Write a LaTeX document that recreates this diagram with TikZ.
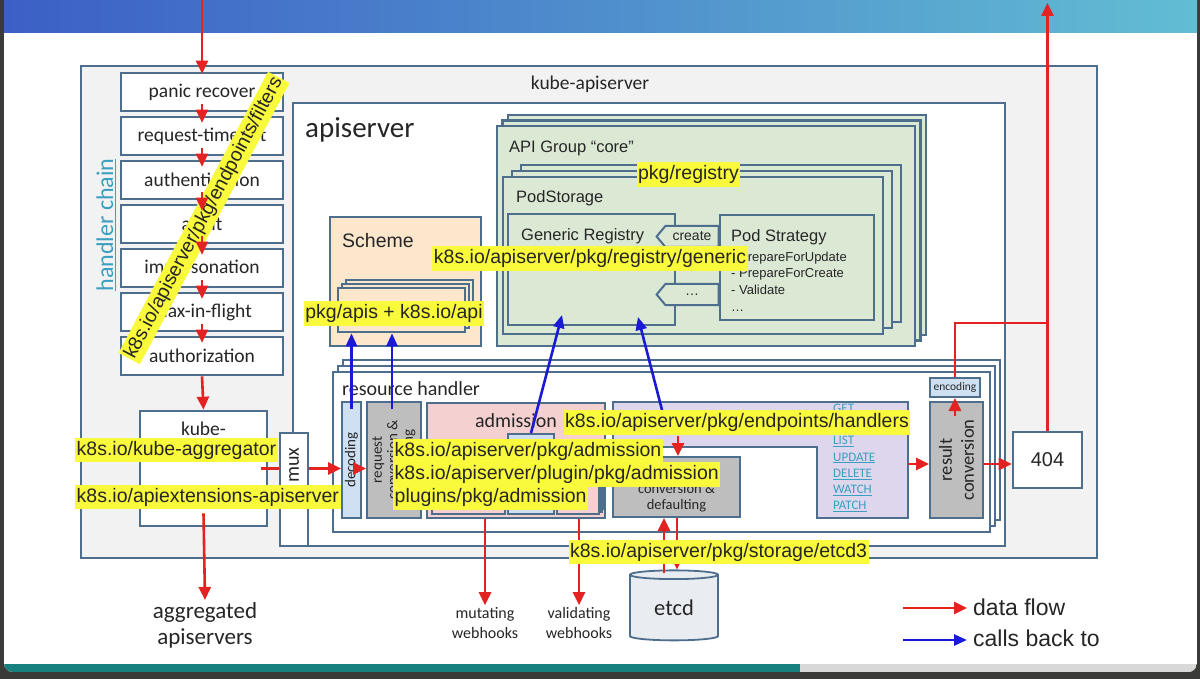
\documentclass[tikz,border=0pt]{standalone}
\usepackage{fontspec}
\setmainfont{Carlito}
\newfontfamily\arialfont{Liberation Sans}
\usetikzlibrary{arrows.meta, positioning, calc, shapes.geometric, shapes.symbols, shadows}

\definecolor{frame}{HTML}{3A3A38}
\definecolor{bannerleft}{HTML}{3C5FC6}
\definecolor{bannerright}{HTML}{62BDD3}
\definecolor{barteal}{HTML}{16817F}
\definecolor{bargray}{HTML}{D8D8D8}
\definecolor{edge}{HTML}{4E6E8E}
\definecolor{outerfill}{HTML}{F2F2F2}
\definecolor{groupgreen}{HTML}{DAE8D4}
\definecolor{schemefill}{HTML}{FCE6CC}
\definecolor{admitpink}{HTML}{F4D0D0}
\definecolor{handlerlilac}{HTML}{DDD6EC}
\definecolor{codecblue}{HTML}{CFE0F2}
\definecolor{convgray}{HTML}{BEBEBE}
\definecolor{etcdgray}{HTML}{E9EDF1}
\definecolor{hilite}{HTML}{FAFA3C}
\definecolor{flowred}{HTML}{E32222}
\definecolor{callblue}{HTML}{1A1AD6}
\definecolor{linkteal}{HTML}{3A9FC0}
\definecolor{ink}{HTML}{262626}

\tikzset{
  fs/.style 2 args={font=\fontsize{#1}{#2}\selectfont},
  afs/.style 2 args={font=\arialfont\fontsize{#1}{#2}\selectfont},
  box/.style={draw=edge, line width=2.6pt, fill=white},
  thinbox/.style={draw=edge, line width=2pt, fill=white},
  stack/.style n args={3}{
    general shadow={shadow xshift=2*#2, shadow yshift=2*#3, draw=edge, line width=2.2pt, fill=#1},
    general shadow={shadow xshift=#2, shadow yshift=#3, draw=edge, line width=2.2pt, fill=#1}},
  chainbox/.style={box, minimum width=162pt, minimum height=38pt, fs={19.5}{22}},
  chevron/.style={thinbox, fill=groupgreen, signal, signal to=west, signal pointer angle=100,
    minimum width=62pt, minimum height=21pt, afs={14}{16}},
  tag/.style={fill=hilite, inner xsep=1.5pt, inner ysep=3pt, afs={19.5}{21}},
  flow/.style={draw=flowred, line width=2.6pt, -{Triangle[length=13pt, width=12pt]}},
  flowline/.style={draw=flowred, line width=2.6pt},
  callback/.style={draw=callblue, line width=2.6pt, -{Triangle[length=13pt, width=11pt]}},
}

\begin{document}
\begin{tikzpicture}[x=1pt, y=-1pt, every node/.style={inner sep=0pt, text=ink}]
\useasboundingbox (0,0) rectangle (1200,679);

% slide background
\fill[frame] (0,0) rectangle (1200,679);
\begin{scope}
  \clip[rounded corners=9pt] (4,-20) rectangle (1197,672);
  \fill[white] (4,-20) rectangle (1197,672);
  \shade[left color=bannerleft, right color=bannerright] (4,-20) rectangle (1197,33);
  \fill[barteal] (4,664) rectangle (800,672);
  \fill[bargray] (800,664) rectangle (1197,672);
\end{scope}

% kube-apiserver
\node[box, fill=outerfill, line width=2.2pt, minimum width=1016pt, minimum height=492pt] (kube) at (589,312) {};
\node[fs={19.5}{22}] (kubetitle) at (590,84) {kube-apiserver};

% apiserver
\node[box, minimum width=712pt, minimum height=443pt] (apiserver) at (649,324.5) {};
\node[anchor=west, fs={29}{32}] (apititle) at (305,130) {apiserver};

% handler chain
\foreach \name/\txt [count=\i] in {panic/panic recover, timeout/request-timeout, authn/authentication, audit/audit, imperson/impersonation, inflight/max-in-flight, authz/authorization}
  \node[chainbox] (\name) at (202,{92+44*(\i-1)}) {\txt};
\node[rotate=90, text=linkteal, fs={24}{26}] (chaintitle) at (106,225) {\underline{handler chain}};

% aggregator and mux
\node[box, minimum width=127pt, minimum height=115pt] (aggr) at (203.5,468.5) {};
\node[align=center, fs={19.5}{22}] (aggrtext) at (203.5,441) {kube-\\aggregator};
\node[box, minimum width=28pt, minimum height=113pt] (mux) at (294,489.5) {};
\node[rotate=90, fs={20}{22}] (muxtext) at (294,465) {mux};

% scheme
\node[box, fill=schemefill, minimum width=151pt, minimum height=129pt] (scheme) at (405.5,281.5) {};
\node[anchor=west, afs={19.5}{22}] (schemetitle) at (342,241) {Scheme};
\node[box, fill=schemefill, stack={schemefill}{4pt}{4pt}, minimum width=127pt, minimum height=44pt] (apis) at (401.5,310) {};

% API group, storage, registry
\node[box, fill=groupgreen, stack={groupgreen}{5.5pt}{5.5pt}, minimum width=418pt, minimum height=220pt] (group) at (706,236) {};
\node[anchor=west, afs={16.5}{19}] (grouptitle) at (509,148) {API Group “core”};
\node[box, fill=groupgreen, stack={groupgreen}{9pt}{6pt}, minimum width=380pt, minimum height=157pt] (podstorage) at (693,255.5) {};
\node[anchor=west, afs={16.5}{19}] (podtitle) at (516,198) {PodStorage};
\node[box, fill=groupgreen, minimum width=167pt, minimum height=111pt] (generic) at (591.5,269.5) {};
\node[anchor=west, afs={16.5}{19}] (generictitle) at (521,236) {Generic Registry};
\foreach \name/\txt/\y in {create/create/236.5, update/update/259.5, more/{\ldots}/294.5}
  \node[chevron] (\name) at (692,\y) {\txt};
\node[box, fill=groupgreen, minimum width=154pt, minimum height=105pt] (strategy) at (797,267.5) {};
\node[anchor=west, afs={16.5}{19}] (strategytitle) at (731,237) {Pod Strategy};
\node[anchor=north west, align=left, afs={13}{16.7}] (strategylist) at (731,251.5) {- PrepareForUpdate\\- PrepareForCreate\\- Validate\\\ldots};

% resource handler
\node[box, stack={white}{5pt}{6pt}, minimum width=657pt, minimum height=160pt] (reshandler) at (661.5,452) {};
\node[anchor=west, fs={20}{22}] (restitle) at (342,389) {resource handler};
\node[thinbox, fill=codecblue, minimum width=19pt, minimum height=116pt] (decoding) at (351.5,460) {};
\node[rotate=90, fs={15}{17}] (decodingtext) at (decoding) {decoding};
\node[thinbox, fill=convgray, minimum width=54pt, minimum height=116pt] (request) at (394,460) {};
\node[rotate=90, align=center, fs={15}{15.5}] (requesttext) at (request) {request\\conversion \&\\defaulting};

% admission
\node[thinbox, fill=admitpink, minimum width=178pt, minimum height=115pt] (admission) at (516,460.5) {};
\node[fs={20}{22}] (admtitle) at (516,421) {admission};
\node[thinbox, fill=admitpink, minimum width=73pt, minimum height=71pt] (mutsub) at (468.5,478.5) {};
\node[thinbox, fill=codecblue, minimum width=46pt, minimum height=80pt] (validation) at (531,474) {};
\node[thinbox, fill=admitpink, stack={admitpink}{2.5pt}{2.5pt}, minimum width=42pt, minimum height=66pt] (valsub) at (578,481) {};

% endpoint handlers
\draw[thinbox, fill=handlerlilac] (613,402) -- (908,402) -- (908,518) -- (817,518) -- (817,447) -- (613,447) -- cycle;
\foreach \op [count=\i from 0] in {GET, POST, LIST, UPDATE, DELETE, WATCH, PATCH}
  \node[anchor=west, text=linkteal, fs={13}{15}] (op\i) at (833,{409+16.3*\i}) {\underline{\op}};
\node[thinbox, fill=convgray, minimum width=127pt, minimum height=60pt] (convdef) at (676.5,487) {};
\node[align=center, fs={14.5}{16.5}] (convtext) at (676.5,498) {conversion \&\\defaulting};

% result side
\node[thinbox, fill=convgray, minimum width=53pt, minimum height=116pt] (resconv) at (956.5,460) {};
\node[rotate=90, align=center, fs={18.5}{22}] (resconvtext) at (resconv) {result\\conversion};
\node[thinbox, fill=codecblue, minimum width=50pt, minimum height=19pt, fs={11.5}{13}] (encoding) at (955,387.5) {encoding};
\node[box, minimum width=69pt, minimum height=56pt, afs={20}{22}] (notfound) at (1047.5,460) {404};

% storage and webhooks
\node[cylinder, shape border rotate=90, aspect=0.22, draw=edge, line width=1.8pt, fill=etcdgray,
  minimum width=88pt, minimum height=70pt, fs={22.5}{24}] (etcd) at (674,608) {etcd};
\node[align=center, fs={16}{20}] (mutwh) at (485,623) {mutating\\webhooks};
\node[align=center, fs={16}{20}] (valwh) at (579,623) {validating\\webhooks};
\node[align=center, fs={23}{26}] (aggapis) at (205,625) {aggregated\\apiservers};

% legend
\coordinate (flowfrom) at (903,608);
\coordinate (flowto) at (967,608);
\coordinate (callfrom) at (903,640);
\coordinate (callto) at (967,640);
\draw[flow] (flowfrom) -- (flowto);
\draw[callback] (callfrom) -- (callto);
\node[anchor=west, afs={23}{25}] (flowtext) at (973,607) {data flow};
\node[anchor=west, afs={23}{25}] (calltext) at (973,638) {calls back to};

% package of the filters
\node[tag, rotate=62] (filterspkg) at (204,218) {k8s.io/apiserver/pkg/endpoints/filters};

% data flow
\coordinate (entry) at (202,0);
\draw[flow] (entry) -- ([yshift=-2pt]panic.north);
\foreach \a/\b in {panic/timeout, timeout/authn, authn/audit, audit/imperson, imperson/inflight, inflight/authz}
  \draw[flow] ([yshift=8pt]\a.south) -- ([yshift=-7pt]\b.north);
\draw[flow] (authz.south) -- (aggr.north);
\draw[flowline] ([xshift=-7pt]aggr.east) -- (aggr.east -| mux.west);
\draw[flow] (aggr.east -| mux.east) -- (aggr.east -| decoding.west);
\draw[flow] (aggr.east -| decoding.east) -- (aggr.east -| request.west);
\draw[flow] ([yshift=14pt]aggr.south) -- ([yshift=2pt]aggapis.north);
\draw[flow] (admission.south -| mutwh.north) -- ([yshift=2pt]mutwh.north);
\draw[flow] (admission.south -| valwh.north) -- ([yshift=2pt]valwh.north);
\draw[flow] ([xshift=1.5pt, yshift=20pt]convdef.north) -- ([xshift=1.5pt]convdef.north);
\draw[flow] ($(etcd.north)+(-10,4)$) -- ($(etcd.north |- convdef.south)+(-10,0)$);
\draw[flow] ($(etcd.north |- convdef.south)+(3,0)$) -- ($(etcd.north)+(3,0)$);
\coordinate (hdlout) at (908,464);
\draw[flow] (hdlout) -- (hdlout -| resconv.west);
\draw[flow] (hdlout -| resconv.east) -- (hdlout -| notfound.west);
\draw[flow] ($(resconv.north)+(-1.5,15)$) -- (encoding.south);
\coordinate (bend) at (1047.5,323);
\draw[flowline] (encoding.north) |- (bend);
\coordinate (exit) at (1047.5,3);
\draw[flow] (notfound.north) -- (exit);

% calls back to
\coordinate (gencall) at (562,315);
\coordinate (stratcall) at (638,317);
\coordinate (hdlcall) at (662,410);
\draw[callback] ([yshift=-8pt]decoding.north) -- (decoding.north |- apis.south);
\draw[callback] ([xshift=-2pt, yshift=-8pt]request.north) -- ($(request.north |- apis.south)+(-2,0)$);
\draw[callback] (validation.north) -- (gencall);
\draw[callback] (hdlcall) -- (stratcall);

% packages
\node[tag] (registrypkg) at (688.5,174.5) {pkg/registry};
\node[tag] (genericpkg) at (590,258.5) {k8s.io/apiserver/pkg/registry/generic};
\node[tag] (apispkg) at (394,313.5) {pkg/apis + k8s.io/api};
\node[tag] (handlerspkg) at (737,422.5) {k8s.io/apiserver/pkg/endpoints/handlers};
\node[tag, anchor=west] (admissionpkg) at (393,451.5) {k8s.io/apiserver/pkg/admission};
\node[tag, anchor=west] (pluginpkg) at (393,474.5) {k8s.io/apiserver/plugin/pkg/admission};
\node[tag, anchor=west] (pluginspkg) at (393,497.5) {plugins/pkg/admission};
\node[tag, anchor=west] (aggrpkg) at (75,450) {k8s.io/kube-aggregator};
\node[tag, anchor=west] (apiextpkg) at (75,497) {k8s.io/apiextensions-apiserver};
\node[tag] (etcdpkg) at (718.5,552) {k8s.io/apiserver/pkg/storage/etcd3};
\end{tikzpicture}
\end{document}
